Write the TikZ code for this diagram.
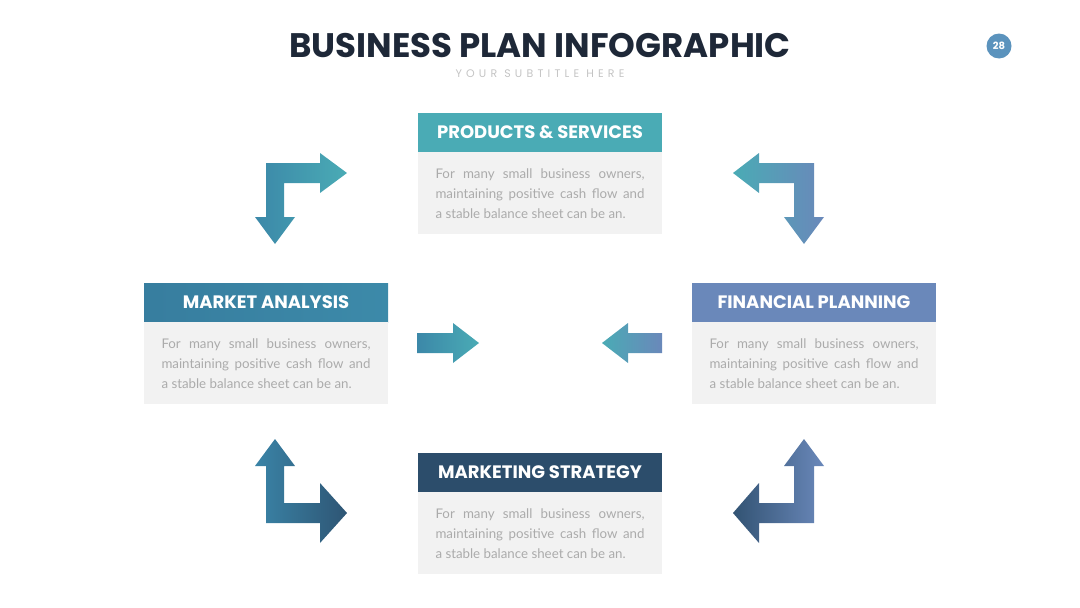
\documentclass[tikz,border=0pt]{standalone}
\usepackage{fontspec}
\setmainfont{Lato}
\newfontfamily\poppins{Poppins}
\newfontfamily\spaced{Poppins}[LetterSpace=38]
\usetikzlibrary{positioning}
\definecolor{ink}{HTML}{1E2838}
\definecolor{subgray}{HTML}{C4C4C4}
\definecolor{badge}{HTML}{5B93BD}
\definecolor{boxgray}{HTML}{F2F2F2}
\definecolor{bodygray}{HTML}{ABABAB}
\definecolor{teal}{HTML}{4AABB5}
\definecolor{ocean}{HTML}{3A84A7}
\definecolor{steel}{HTML}{6A88BA}
\definecolor{navy}{HTML}{2C4D6B}
\hyphenpenalty=10000
\newcommand{\blurb}{For many small business owners, maintaining positive cash flow and\linebreak a stable balance sheet can be an.}

\begin{document}
\begin{tikzpicture}[x=1pt,y=-1pt,
    head/.style={minimum width=244pt,minimum height=39pt,inner sep=0pt,text=white,
      font=\poppins\bfseries\fontsize{18}{18}\selectfont},
    body/.style={fill=boxgray,minimum height=82pt,text width=209pt,align=justify,
      inner xsep=17.5pt,inner ysep=0pt,text=bodygray,font=\fontsize{13.3}{20}\selectfont}]
      \useasboundingbox (0,0) rectangle (1080,608);
      % title
      \node[text=ink,font=\poppins\bfseries\fontsize{34}{34}\selectfont] (title) at (540,46) {BUSINESS PLAN INFOGRAPHIC};
      \node[text=subgray,font=\spaced\fontsize{11}{11}\selectfont] (subtitle) at (540,74) {YOUR SUBTITLE HERE};
      \node[circle,fill=badge,minimum size=25pt,inner sep=0pt,text=white,
        font=\poppins\bfseries\fontsize{10}{10}\selectfont] (page) at (999,46) {28};
      % boxes
      \node[head,fill=teal] (prodhead) at (540,132.5) {PRODUCTS \& SERVICES};
      \node[body,below=0pt of prodhead] (prodtext) {\blurb};
      \node[head,left color=ocean!95!black,right color=ocean!85!teal] (markhead) at (266,302.5) {MARKET ANALYSIS};
      \node[body,below=0pt of markhead] (marktext) {\blurb};
      \node[head,fill=steel] (finhead) at (814,302.5) {FINANCIAL PLANNING};
      \node[body,below=0pt of finhead] (fintext) {\blurb};
      \node[head,fill=navy] (stratehead) at (540,472.5) {MARKETING STRATEGY};
      \node[body,below=0pt of stratehead] (stratetext) {\blurb};
      % corner arrows
      \shade[left color=ocean!90!teal,right color=teal] (266,163) -- (320,163) -- (320,153) -- (347,173) -- (320,193)
        -- (320,183) -- (284,183) -- (284,217) -- (295,217) -- (275,244) -- (255,217) -- (266,217) -- cycle;
      \shade[left color=teal,right color=steel] (814,163) -- (759,163) -- (759,153) -- (733,173) -- (759,193)
        -- (759,183) -- (794,183) -- (794,217) -- (784,217) -- (804,244) -- (824,217) -- (814,217) -- cycle;
      \shade[left color=ocean,right color=navy!85!ocean] (266,523) -- (320,523) -- (320,543) -- (347,513) -- (320,483)
        -- (320,503) -- (284,503) -- (284,466) -- (295,466) -- (275,439) -- (255,466) -- (266,466) -- cycle;
      \shade[left color=navy!90!steel,right color=steel] (814,523) -- (759,523) -- (759,543) -- (733,513) -- (759,483)
        -- (759,503) -- (794,503) -- (794,466) -- (784,466) -- (804,439) -- (824,466) -- (814,466) -- cycle;
      % middle arrows
      \shade[left color=ocean!90!teal,right color=teal] (417,333) -- (453,333) -- (453,323) -- (479,343) -- (453,363)
        -- (453,353) -- (417,353) -- cycle;
      \shade[left color=teal,right color=steel] (662,333) -- (628,333) -- (628,323) -- (602,343) -- (628,363)
        -- (628,353) -- (662,353) -- cycle;
    \end{tikzpicture}
\end{document}
